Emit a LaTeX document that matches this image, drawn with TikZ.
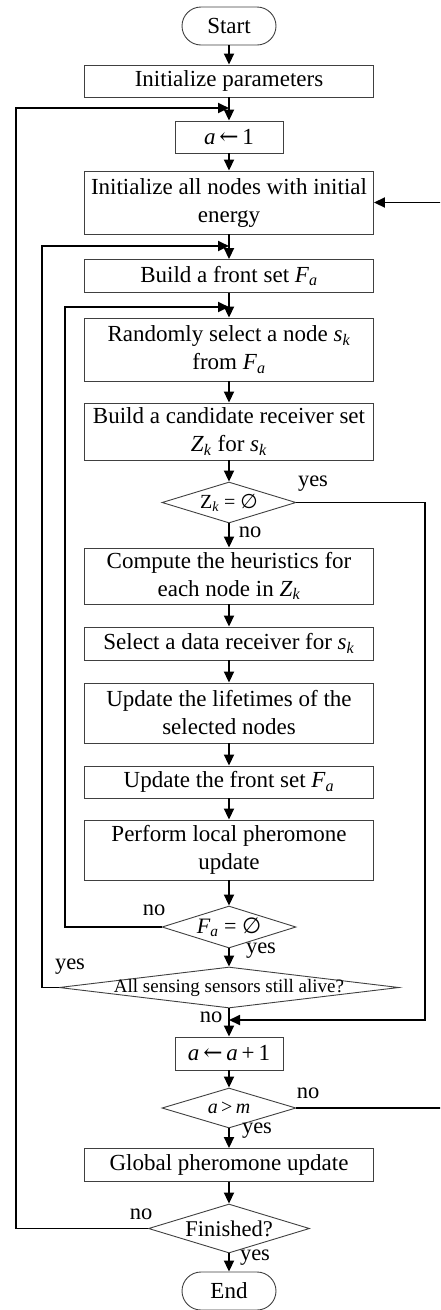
\documentclass[tikz,border=0pt]{standalone}
\usepackage{fontspec}
\setmainfont{Liberation Serif}
\newfontfamily\symf{DejaVu Serif}
\newfontfamily\symsf{DejaVu Sans}
\usetikzlibrary{shapes.geometric,arrows.meta}
\newcommand{\iv}[2]{\textit{#1}\textsubscript{\textit{#2}}}
\newcommand{\larr}{{\symf\char"2190}}
\newcommand{\eset}{{\symsf\char"2205}}
\begin{document}
\begin{tikzpicture}[x=1pt,y=-1pt,
  box/.style={draw=black!75, line width=0.9pt, fill=white, inner sep=0pt, minimum width=289pt, align=center, font=\fontsize{23}{28}\selectfont},
  term/.style={box, rounded corners=19pt, minimum width=94pt, minimum height=38pt},
  dec/.style={draw=black!75, line width=0.9pt, diamond, inner sep=0pt},
  dtext/.style={inner sep=0pt, align=center},
  arr/.style={line width=1.8pt, -{Triangle[length=11pt,width=10pt]}},
  lab/.style={font=\fontsize{22.5}{26}\selectfont, inner sep=0pt}]
\useasboundingbox (0,0) rectangle (440,1310);
\clip (0,0) rectangle (440,1310);

% boxes
\node[term] (start) at (229,26) {Start};
\node[box, minimum height=32pt] (initp) at (229,81) {Initialize parameters};
\node[box, minimum width=108pt, minimum height=32pt] (a1) at (229,137) {\textit{a}\,\larr\,1};
\node[box, minimum height=63pt] (initall) at (229,202.5) {Initialize all nodes with initial\\energy};
\node[box, minimum height=33pt] (front) at (229,276) {Build a front set \iv{F}{a}};
\node[box, minimum height=63pt] (rand) at (229,349.5) {Randomly select a node \iv{s}{k}\\from \iv{F}{a}};
\node[box, minimum height=57pt] (cand) at (229,431.5) {Build a candidate receiver set\\\iv{Z}{k} for \iv{s}{k}};
\node[dec, minimum width=134pt, minimum height=41pt] (dz) at (229,502.5) {};
\node[dtext, font=\fontsize{20}{24}\selectfont] (dzt) at (229,502.5) {Z\textsubscript{\textit{k}} = \eset};
\node[box, minimum height=56pt] (comp) at (229,576) {Compute the heuristics for\\each node in \iv{Z}{k}};
\node[box, minimum height=33pt] (sel) at (229,643.5) {Select a data receiver for \iv{s}{k}};
\node[box, minimum height=60pt] (upd) at (229,713) {Update the lifetimes of the\\selected nodes};
\node[box, minimum height=32pt] (updf) at (229,782) {Update the front set \iv{F}{a}};
\node[box, minimum height=60pt] (perf) at (229,850) {Perform local pheromone\\update};
\node[dec, minimum width=134pt, minimum height=42pt] (df) at (229,927) {};
\node[dtext, font=\fontsize{22}{26}\selectfont] (dft) at (229,927) {\iv{F}{a} = \eset};
\node[dec, minimum width=340pt, minimum height=41pt] (dall) at (229,987.5) {};
\node[dtext, font=\fontsize{19}{23}\selectfont] (dallt) at (229,987.5) {All sensing sensors still alive?};
\node[box, minimum width=108pt, minimum height=33pt] (aa1) at (229,1053.5) {\textit{a}\,\larr\,\textit{a}\,+\,1};
\node[dec, minimum width=134pt, minimum height=40pt] (dam) at (229,1108) {};
\node[dtext, font=\fontsize{20}{24}\selectfont] (damt) at (229,1108) {\textit{a}\,>\,\textit{m}};
\node[box, minimum height=33pt] (glob) at (229,1165) {Global pheromone update};
\node[dec, minimum width=161pt, minimum height=49pt] (dfin) at (229,1228.5) {};
\node[dtext, font=\fontsize{22.5}{26}\selectfont] (dfint) at (229,1228.5) {Finished?};
\node[term] (end) at (229,1291) {End};

% junction coordinates
\coordinate (j1) at (229,108);
\coordinate (c1) at (16,108);
\coordinate (j2) at (229,246);
\coordinate (c2) at (42,246);
\coordinate (j3) at (229,307);
\coordinate (c3) at (65,307);
\coordinate (j4) at (229,1020);
\coordinate (c4) at (425,1020);
\coordinate (c5) at (455,202.5);

% main flow
\draw[arr] (start) -- (initp);
\draw[arr] (initp) -- (a1);
\draw[arr] (a1) -- (initall);
\draw[arr] (initall) -- (front);
\draw[arr] (front) -- (rand);
\draw[arr] (rand) -- (cand);
\draw[arr] (cand) -- (dz);
\draw[arr] (dz) -- (comp);
\draw[arr] (comp) -- (sel);
\draw[arr] (sel) -- (upd);
\draw[arr] (upd) -- (updf);
\draw[arr] (updf) -- (perf);
\draw[arr] (perf) -- (df);
\draw[arr] (df) -- (dall);
\draw[arr] (dall) -- (aa1);
\draw[arr] (aa1) -- (dam);
\draw[arr] (dam) -- (glob);
\draw[arr] (glob) -- (dfin);
\draw[arr] (dfin) -- (end);

% loops
\draw[arr] (dfin.west) -| (c1) -- (j1);
\draw[arr] (dall.west) -| (c2) -- (j2);
\draw[arr] (df.west) -| (c3) -- (j3);
\draw[arr] (dz.east) -| (c4) -- (j4);
\draw[arr] (dam.east) -| (c5) -- (initall.east);

% labels
\node[lab] (l1) at (313,484) {yes};
\node[lab] (l2) at (250,532) {no};
\node[lab] (l3) at (154,910) {no};
\node[lab] (l4) at (261,951) {yes};
\node[lab] (l5) at (70,967) {yes};
\node[lab] (l6) at (211,1017) {no};
\node[lab] (l7) at (308,1093) {no};
\node[lab] (l8) at (257,1131) {yes};
\node[lab] (l9) at (141,1214) {no};
\node[lab] (l10) at (255,1258) {yes};
\end{tikzpicture}
\end{document}
